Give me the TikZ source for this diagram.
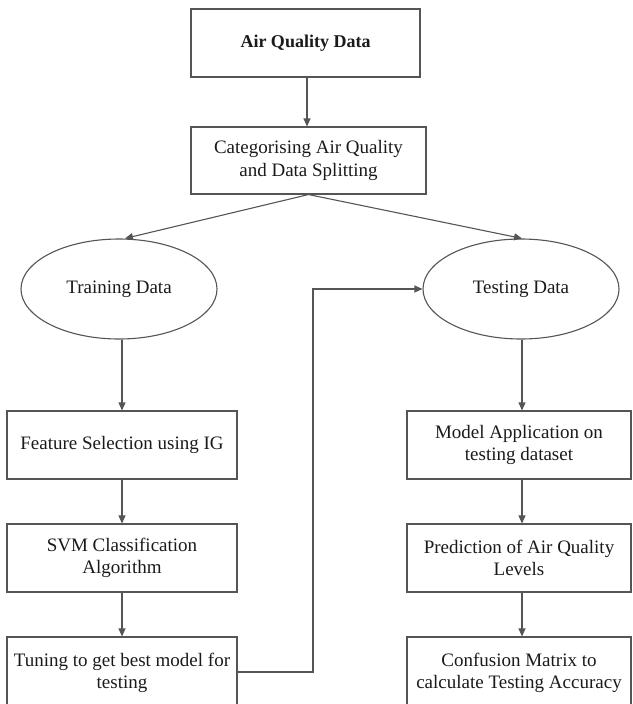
\documentclass[tikz,border=0pt]{standalone}
\usepackage{fontspec}
\setmainfont{Liberation Serif}
\usetikzlibrary{arrows.meta,shapes.geometric}

\definecolor{edge}{HTML}{555555}
\definecolor{ink}{HTML}{1A1A1A}

\tikzset{
  stepbox/.style={draw=edge, line width=1.1pt, rectangle, minimum height=68pt,
    inner sep=0pt, align=center, text=ink,
    font=\fontsize{19}{22.5}\selectfont},
  dataoval/.style={draw=edge, line width=1.1pt, ellipse, minimum width=196pt,
    minimum height=100pt, inner sep=0pt, text=ink,
    font=\fontsize{19}{22.5}\selectfont},
  flow/.style={draw=edge, line width=1.1pt, -{Triangle[length=8pt,width=7pt]}},
}

\begin{document}
\begin{tikzpicture}[x=1pt, y=-1pt]
  \useasboundingbox (0,0) rectangle (632,704);

  % top of the pipeline
  \node[stepbox, minimum width=229pt, font=\fontsize{18}{22}\selectfont\bfseries] (raw) at (305.5,43) {Air Quality Data};
  \node[stepbox, minimum width=235pt, minimum height=67pt] (split) at (308.5,160.5) {Categorising Air Quality\\and Data Splitting};

  % the two data sets
  \node[dataoval] (train) at (119,289) {Training Data};
  \node[dataoval] (test) at (521,289) {Testing Data};

  % training branch
  \node[stepbox, minimum width=230pt] (feat) at (122,445) {Feature Selection using IG};
  \node[stepbox, minimum width=230pt] (svm) at (122,558) {SVM Classification\\Algorithm};
  \node[stepbox, minimum width=230pt, minimum height=72pt] (tune) at (122,673) {Tuning to get best model for\\testing};

  % testing branch
  \node[stepbox, minimum width=224pt] (apply) at (519,445) {Model Application on\\testing dataset};
  \node[stepbox, minimum width=224pt] (pred) at (519,558) {Prediction of Air Quality\\Levels};
  \node[stepbox, minimum width=224pt, minimum height=72pt] (conf) at (519,673) {Confusion Matrix to\\calculate Testing Accuracy};

  \coordinate (bendlow) at (313,672);
  \coordinate (bendhigh) at (313,289);

  % connectors
  \draw[flow] (raw.south -| 307,0) -- (split.north -| 307,0);
  \draw[flow] (split.south) -- ([xshift=6pt]train.north);
  \draw[flow] (split.south) -- ([xshift=1pt]test.north);
  \draw[flow] (train.south -| feat.north) -- (feat.north);
  \draw[flow] (feat) -- (svm);
  \draw[flow] (svm) -- (tune);
  \draw[flow] (test.south -| 522,0) -- (apply.north -| 522,0);
  \draw[flow] (apply.south -| 522,0) -- (pred.north -| 522,0);
  \draw[flow] (pred.south -| 522,0) -- (conf.north -| 522,0);
  \draw[flow] (tune.east |- bendlow) -- (bendlow) -- (bendhigh) -- (test.west);
\end{tikzpicture}
\end{document}
